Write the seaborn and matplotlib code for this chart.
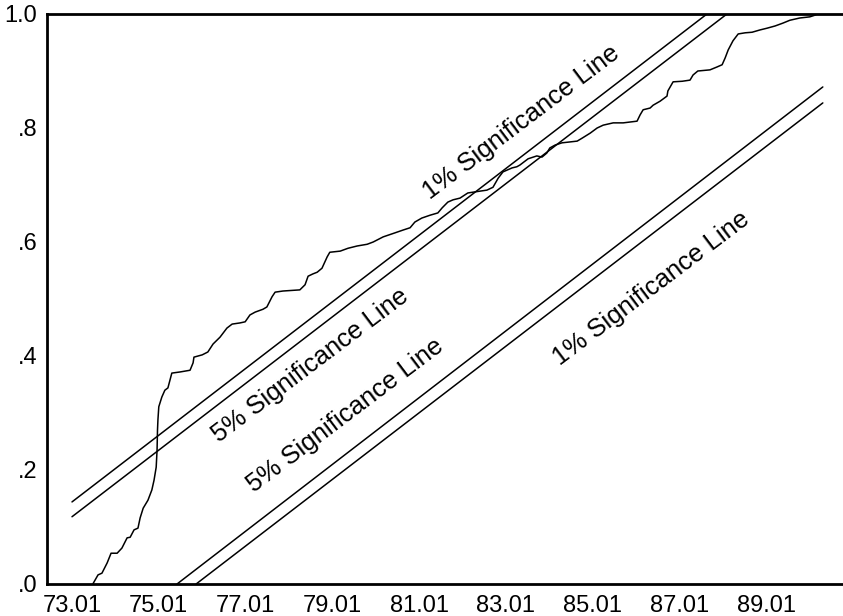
import numpy as np
import pandas as pd
import matplotlib
matplotlib.use("Agg")
import matplotlib.pyplot as plt
from matplotlib.ticker import FixedLocator, FixedFormatter
import seaborn as sns

# CUSUM of squares, x in fractional years (73.0 = 1973.01)
cusum_year = [
    73.48, 73.60, 73.69, 73.81, 73.90, 74.04, 74.15, 74.27, 74.34, 74.43,
    74.52, 74.57, 74.64, 74.75, 74.84, 74.89, 74.94, 74.96, 74.97, 74.98,
    75.00, 75.07, 75.14, 75.21, 75.30, 75.49, 75.72, 75.79, 75.81, 76.00,
    76.13, 76.25, 76.41, 76.57, 76.69, 76.87, 76.99, 77.10, 77.22, 77.40,
    77.49, 77.61, 77.68, 77.86, 78.25, 78.37, 78.44, 78.55, 78.65, 78.76,
    78.88, 78.94, 79.18, 79.36, 79.57, 79.80, 79.94, 80.17, 80.44, 80.63,
    80.79, 80.90, 81.06, 81.25, 81.43, 81.53, 81.66, 81.78, 81.94, 82.12,
    82.29, 82.56, 82.70, 82.82, 82.93, 83.14, 83.25, 83.32, 83.51, 83.71,
    83.83, 83.94, 84.01, 84.13, 84.29, 84.41, 84.64, 84.75, 84.94, 85.10,
    85.24, 85.47, 85.70, 86.02, 86.09, 86.16, 86.32, 86.39, 86.55, 86.71,
    86.73, 86.85, 87.06, 87.24, 87.31, 87.42, 87.70, 87.86, 87.98, 88.05,
    88.12, 88.23, 88.35, 88.51, 88.67, 88.85, 89.01, 89.20, 89.38, 89.54,
    89.77, 90.00, 90.12, 90.17,
]
cusum_value = [
    0.000, 0.016, 0.019, 0.037, 0.054, 0.054, 0.063, 0.081, 0.082, 0.095,
    0.098, 0.116, 0.133, 0.147, 0.165, 0.182, 0.205, 0.235, 0.270, 0.288,
    0.311, 0.328, 0.340, 0.344, 0.370, 0.372, 0.375, 0.388, 0.398, 0.402,
    0.407, 0.421, 0.433, 0.449, 0.456, 0.458, 0.460, 0.472, 0.477, 0.482,
    0.486, 0.504, 0.512, 0.514, 0.516, 0.525, 0.540, 0.544, 0.547, 0.554,
    0.574, 0.582, 0.584, 0.589, 0.593, 0.596, 0.600, 0.609, 0.616, 0.621,
    0.625, 0.635, 0.642, 0.647, 0.651, 0.660, 0.670, 0.674, 0.677, 0.686,
    0.688, 0.691, 0.696, 0.712, 0.723, 0.730, 0.732, 0.735, 0.746, 0.751,
    0.749, 0.756, 0.765, 0.770, 0.774, 0.775, 0.777, 0.782, 0.791, 0.800,
    0.805, 0.809, 0.809, 0.812, 0.823, 0.832, 0.835, 0.840, 0.847, 0.856,
    0.865, 0.881, 0.882, 0.884, 0.893, 0.900, 0.902, 0.907, 0.911, 0.923,
    0.937, 0.953, 0.965, 0.967, 0.968, 0.972, 0.975, 0.979, 0.984, 0.989,
    0.993, 0.995, 0.998, 1.000,
]

# significance bands (end points, clipped at 0 and 1)
upper_1_year = [73.0, 87.63]
upper_1_value = [0.144, 1.0]
upper_5_year = [73.0, 88.09]
upper_5_value = [0.118, 1.0]
lower_5_year = [75.42, 90.30]
lower_5_value = [0.0, 0.872]
lower_1_year = [75.86, 90.30]
lower_1_value = [0.0, 0.844]

# label text and centre positions
band_labels = ["1% Significance Line", "5% Significance Line",
               "5% Significance Line", "1% Significance Line"]
label_year = [83.35, 78.48, 79.29, 86.34]
label_value = [0.810, 0.384, 0.296, 0.519]

xtick_years = [73, 75, 77, 79, 81, 83, 85, 87, 89]
xtick_labels = ["73.01", "75.01", "77.01", "79.01", "81.01",
                "83.01", "85.01", "87.01", "89.01"]
ytick_values = [0.0, 0.2, 0.4, 0.6, 0.8, 1.0]
ytick_labels = [".0", ".2", ".4", ".6", ".8", "1.0"]

sns.set_style("white")
plt.rcParams["font.family"] = ["Liberation Sans", "DejaVu Sans"]

fig = plt.figure(figsize=(8.43, 6.16), dpi=100)
ax = fig.add_axes([47 / 843, 32 / 616, 1 - 47 / 843, 570 / 616])

line_kw = dict(color="black", linewidth=1.1, estimator=None, sort=False,
               legend=False, ax=ax)
sns.lineplot(x=cusum_year, y=cusum_value, **line_kw)
sns.lineplot(x=upper_1_year, y=upper_1_value, **line_kw)
sns.lineplot(x=upper_5_year, y=upper_5_value, **line_kw)
sns.lineplot(x=lower_5_year, y=lower_5_value, **line_kw)
sns.lineplot(x=lower_1_year, y=lower_1_value, **line_kw)

for txt, lx, ly in zip(band_labels, label_year, label_value):
    ax.text(lx, ly, txt, rotation=37, rotation_mode="anchor",
            ha="center", va="center", fontsize=18.5, color="black")

ax.set_xlim(72.424, 90.765)
ax.set_ylim(0, 1.0)

ax.xaxis.set_major_locator(FixedLocator(xtick_years))
ax.xaxis.set_major_formatter(FixedFormatter(xtick_labels))
ax.xaxis.set_minor_locator(FixedLocator(np.arange(73, 90.0, 1 / 12)))
ax.yaxis.set_major_locator(FixedLocator(ytick_values))
ax.yaxis.set_major_formatter(FixedFormatter(ytick_labels))

ax.tick_params(axis="x", which="major", direction="in", length=6,
               width=0.8, pad=8, labelsize=17, colors="black")
ax.tick_params(axis="x", which="minor", direction="in", length=3,
               width=0.6, colors="black")
ax.tick_params(axis="y", which="major", direction="in", length=9,
               width=0.8, pad=7, labelsize=17, colors="black")
ax.set_xlabel("")
ax.set_ylabel("")

for side in ["left", "bottom", "top"]:
    ax.spines[side].set_color("black")
    ax.spines[side].set_linewidth(2)
ax.spines["right"].set_visible(False)

fig.savefig("out.png", dpi=100, facecolor="white")
